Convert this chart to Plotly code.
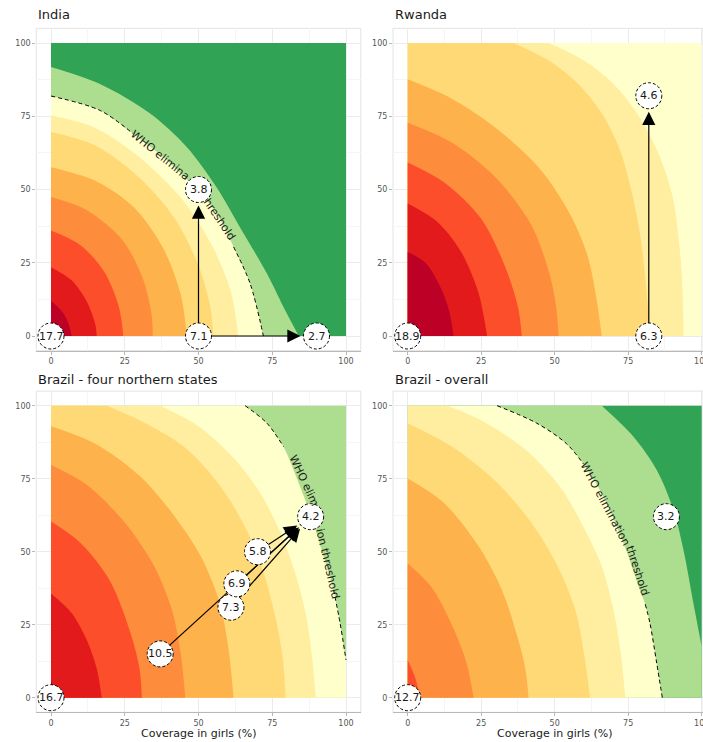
import math
import plotly.graph_objects as go

W, H = 703, 742

# colour bands (YlOrRd above the WHO threshold, greens below)
DG, LG = '#31a354', '#addd8e'
Y1, Y2, Y3 = '#ffffcc', '#ffeda0', '#fed976'
O1, O2 = '#feb24c', '#fd8d3c'
R1, R2, R3 = '#fc4e2a', '#e31a1c', '#bd0026'

TICKS = [0, 25, 50, 75, 100]
MINOR = [12.5, 37.5, 62.5, 87.5]
X_TITLE = 'Coverage in girls (%)'

# ---------------- India ----------------
IND_TITLE = 'India'
IND_BG = DG
IND_LG_X = [0, 16.6, 33.6, 46, 56, 64, 73.2, 78.8, 84]
IND_LG_Y = [91.8, 86, 75.9, 64.5, 50.9, 37.2, 21.3, 9.9, 0]
IND_Y1_X = [0, 16.6, 27.9, 39.3, 50.6, 56.2, 61.9, 67.5, 72]
IND_Y1_Y = [81.9, 77, 69, 60, 48.6, 41.8, 30.4, 17.9, 0]
IND_Y2_X = [0, 15, 30, 45, 55, 61, 63.5]
IND_Y2_Y = [75.3, 71, 61, 46, 30, 15, 0]
IND_Y3_X = [0, 15, 30, 42, 50, 54, 55]
IND_Y3_Y = [69.6, 65, 54, 40, 24, 10, 0]
IND_O1_X = [0, 15, 28, 38, 44, 46]
IND_O1_Y = [57.6, 53, 44, 30, 14, 0]
IND_O2_X = [0, 12, 24, 31, 34, 34.5]
IND_O2_Y = [47.4, 43, 33, 20, 8, 0]
IND_R1_X = [0, 10, 18, 23, 24.5]
IND_R1_Y = [36, 31, 22, 10, 0]
IND_R2_X = [0, 7, 12, 15, 15.5]
IND_R2_Y = [23.5, 19, 12, 4, 0]
IND_R3_X = [0, 4, 6, 7]
IND_R3_Y = [12, 8, 4, 0]
IND_PT_X = [0, 50, 50, 90]
IND_PT_Y = [0, 0, 50, 0]
IND_PT_LAB = ['17.7', '7.1', '3.8', '2.7']
IND_AR_FROM = [1, 1]
IND_AR_TO = [2, 3]
IND_TXT = ['WHO elimina', 'hreshold']
IND_TXT_X = [37, 57]
IND_TXT_Y = [61.5, 39.6]
IND_TXT_ANG = [39, 56]
IND_GAP = (28, 61.5)

# ---------------- Rwanda ----------------
RWA_TITLE = 'Rwanda'
RWA_BG = Y1
RWA_Y2_X = [48, 60, 70, 78, 85, 90, 92.5, 93.5, 93.8]
RWA_Y2_Y = [100, 94, 86, 76, 63, 48, 30, 15, 0]
RWA_Y3_X = [36, 48, 58, 66, 72, 76, 79, 81, 82.4]
RWA_Y3_Y = [100, 94, 86, 76, 64, 50, 35, 18, 0]
RWA_O1_X = [0, 15, 30, 45, 55, 61, 64, 66]
RWA_O1_Y = [87.6, 81, 71, 57, 42, 28, 14, 0]
RWA_O2_X = [0, 15, 30, 42, 48, 50.5, 51.3]
RWA_O2_Y = [72.8, 66, 54, 38, 22, 10, 0]
RWA_R1_X = [0, 13, 25, 33, 37.5, 38.8]
RWA_R1_Y = [59.2, 52, 40, 24, 10, 0]
RWA_R2_X = [0, 10, 18, 24, 27]
RWA_R2_Y = [45.2, 39, 29, 15, 0]
RWA_R3_X = [0, 6, 11, 14, 15.6]
RWA_R3_Y = [28.7, 25, 17, 9, 0]
RWA_PT_X = [0, 82, 82]
RWA_PT_Y = [0, 0, 82]
RWA_PT_LAB = ['18.9', '6.3', '4.6']
RWA_AR_FROM = [1]
RWA_AR_TO = [2]

# ---------------- Brazil - four northern states ----------------
BRN_TITLE = 'Brazil - four northern states'
BRN_BG = LG
BRN_Y1_X = [65.8, 73.2, 78.8, 82.2, 87.9, 92.4, 95.8, 98, 100]
BRN_Y1_Y = [100, 94, 86, 78, 63, 48.3, 36.9, 25.5, 12.9]
BRN_Y2_X = [37, 50, 62, 71, 78, 83, 86.5, 88.5, 89.7]
BRN_Y2_Y = [100, 93, 82, 70, 56, 42, 28, 14, 0]
BRN_Y3_X = [18.9, 30, 45, 57, 66, 72, 76, 78.5, 79.5]
BRN_Y3_Y = [100, 95, 86, 73, 58, 43, 28, 14, 0]
BRN_O1_X = [0, 15, 30, 42, 51, 57, 60, 61.9]
BRN_O1_Y = [93, 87, 76, 62, 48, 33, 18, 0]
BRN_O2_X = [0, 12, 25, 35, 41, 44, 45.5]
BRN_O2_Y = [79.7, 73, 60, 45, 30, 15, 0]
BRN_R1_X = [0, 10, 20, 27, 30, 30.8]
BRN_R1_Y = [60.3, 53, 40, 22, 10, 0]
BRN_R2_X = [0, 7, 12, 15.5, 17.2]
BRN_R2_Y = [35.7, 29, 20, 10, 0]
BRN_R3_X = [0, 1, 1.6]
BRN_R3_Y = [6, 3, 0]
BRN_PT_X = [0, 37, 61, 63, 70, 88]
BRN_PT_Y = [0, 15, 31, 39, 50, 62]
BRN_PT_LAB = ['16.7', '10.5', '7.3', '6.9', '5.8', '4.2']
BRN_AR_FROM = [1, 2, 3, 4]
BRN_AR_TO = [5, 5, 5, 5]
BRN_TXT = ['WHO elim', 'ion threshold']
BRN_TXT_X = [85.8, 93.8]
BRN_TXT_Y = [74.5, 46]
BRN_TXT_ANG = [65, 77]
BRN_GAP = (80, 95.5)

# ---------------- Brazil - overall ----------------
BRO_TITLE = 'Brazil - overall'
BRO_BG = DG
BRO_LG_X = [66, 76.8, 84.7, 90.4, 93.8, 97.2, 100]
BRO_LG_Y = [100, 89.4, 78, 64.3, 50.6, 32.3, 17.5]
BRO_Y1_X = [30.4, 43.9, 54, 59.8, 66.6, 73.4, 79, 80.8, 82.4, 84.7, 86.6]
BRO_Y1_Y = [100, 94, 87, 80, 68.8, 52.9, 36.9, 32, 25.5, 11.8, 0]
BRO_Y2_X = [13.4, 25, 40, 52, 60, 66, 70, 72.5, 74]
BRO_Y2_Y = [100, 95, 85, 72, 58, 45, 30, 15, 0]
BRO_Y3_X = [0, 15, 30, 42, 51, 57, 60, 62]
BRO_Y3_Y = [94, 86, 74, 60, 45, 30, 15, 0]
BRO_O1_X = [0, 12, 24, 32, 37, 40, 41.1]
BRO_O1_Y = [75.1, 67, 52, 37, 22, 10, 0]
BRO_O2_X = [0, 8, 15, 20, 22.4]
BRO_O2_Y = [46, 38, 25, 12, 0]
BRO_R1_X = [0, 2.5, 4.3]
BRO_R1_Y = [12.9, 7, 0]
BRO_PT_X = [0, 88]
BRO_PT_Y = [0, 62]
BRO_PT_LAB = ['12.7', '3.2']
BRO_TXT = ['WHO elimination', 'threshold']
BRO_TXT_X = [67.3, 78]
BRO_TXT_Y = [66.3, 43.4]
BRO_TXT_ANG = [62, 72]
BRO_GAP = (60, 80.5)

# ---------------- layout geometry ----------------
LEFT_DOM = [36.25 / W, 360.75 / W]
RIGHT_DOM = [393.0 / W, 1.0]
TOP_DOM = [(H - 350.65) / H, (H - 28.35) / H]
BOT_DOM = [(H - 712.3) / H, (H - 391.1) / H]
XR_L = [-5, 105]
XR_R = [-5, 100.44]
YR = [-5, 105]
R_PX = 13
STANDOFF = 16

panels = [
    dict(n='', xd=LEFT_DOM, yd=TOP_DOM, xr=XR_L, title=IND_TITLE, ty=14.5, bg=IND_BG,
         bands=[(IND_LG_X, IND_LG_Y, LG), (IND_Y1_X, IND_Y1_Y, Y1), (IND_Y2_X, IND_Y2_Y, Y2),
                (IND_Y3_X, IND_Y3_Y, Y3), (IND_O1_X, IND_O1_Y, O1), (IND_O2_X, IND_O2_Y, O2),
                (IND_R1_X, IND_R1_Y, R1), (IND_R2_X, IND_R2_Y, R2), (IND_R3_X, IND_R3_Y, R3)],
         thr=(IND_Y1_X, IND_Y1_Y, IND_GAP),
         txt=(IND_TXT, IND_TXT_X, IND_TXT_Y, IND_TXT_ANG),
         pts=(IND_PT_X, IND_PT_Y, IND_PT_LAB), arrows=(IND_AR_FROM, IND_AR_TO), xtitle=False),
    dict(n='2', xd=RIGHT_DOM, yd=TOP_DOM, xr=XR_R, title=RWA_TITLE, ty=14.5, bg=RWA_BG,
         bands=[(RWA_Y2_X, RWA_Y2_Y, Y2), (RWA_Y3_X, RWA_Y3_Y, Y3), (RWA_O1_X, RWA_O1_Y, O1),
                (RWA_O2_X, RWA_O2_Y, O2), (RWA_R1_X, RWA_R1_Y, R1), (RWA_R2_X, RWA_R2_Y, R2),
                (RWA_R3_X, RWA_R3_Y, R3)],
         thr=None, txt=None,
         pts=(RWA_PT_X, RWA_PT_Y, RWA_PT_LAB), arrows=(RWA_AR_FROM, RWA_AR_TO), xtitle=False),
    dict(n='3', xd=LEFT_DOM, yd=BOT_DOM, xr=XR_L, title=BRN_TITLE, ty=379, bg=BRN_BG,
         bands=[(BRN_Y1_X, BRN_Y1_Y, Y1), (BRN_Y2_X, BRN_Y2_Y, Y2), (BRN_Y3_X, BRN_Y3_Y, Y3),
                (BRN_O1_X, BRN_O1_Y, O1), (BRN_O2_X, BRN_O2_Y, O2), (BRN_R1_X, BRN_R1_Y, R1),
                (BRN_R2_X, BRN_R2_Y, R2), (BRN_R3_X, BRN_R3_Y, R3)],
         thr=(BRN_Y1_X, BRN_Y1_Y, BRN_GAP),
         txt=(BRN_TXT, BRN_TXT_X, BRN_TXT_Y, BRN_TXT_ANG),
         pts=(BRN_PT_X, BRN_PT_Y, BRN_PT_LAB), arrows=(BRN_AR_FROM, BRN_AR_TO), xtitle=True),
    dict(n='4', xd=RIGHT_DOM, yd=BOT_DOM, xr=XR_R, title=BRO_TITLE, ty=379, bg=BRO_BG,
         bands=[(BRO_LG_X, BRO_LG_Y, LG), (BRO_Y1_X, BRO_Y1_Y, Y1), (BRO_Y2_X, BRO_Y2_Y, Y2),
                (BRO_Y3_X, BRO_Y3_Y, Y3), (BRO_O1_X, BRO_O1_Y, O1), (BRO_O2_X, BRO_O2_Y, O2),
                (BRO_R1_X, BRO_R1_Y, R1)],
         thr=(BRO_Y1_X, BRO_Y1_Y, BRO_GAP),
         txt=(BRO_TXT, BRO_TXT_X, BRO_TXT_Y, BRO_TXT_ANG),
         pts=(BRO_PT_X, BRO_PT_Y, BRO_PT_LAB), arrows=([], []), xtitle=True),
]

fig = go.Figure()
shapes, annotations = [], []
FONT = 'DejaVu Sans, Verdana, sans-serif'


def flat(col, xa, ya, xs, ys, fill, shape='linear'):
    return go.Scatter(x=xs, y=ys, mode='lines', line=dict(width=0, shape=shape, smoothing=0.9),
                      fill=fill, fillcolor=col, xaxis=xa, yaxis=ya,
                      hoverinfo='skip', showlegend=False)


for p in panels:
    xa, ya = 'x' + p['n'], 'y' + p['n']
    sx = (p['xd'][1] - p['xd'][0]) * W / (p['xr'][1] - p['xr'][0])
    sy = (p['yd'][1] - p['yd'][0]) * H / (YR[1] - YR[0])

    # background (lowest band)
    fig.add_trace(flat(p['bg'], xa, ya, [0, 100, 100, 0, 0], [0, 0, 100, 100, 0], 'toself'))
    # nested bands, outermost first
    for bx, by, col in p['bands']:
        fig.add_trace(flat(col, xa, ya, list(bx), list(by), 'tozeroy', 'spline'))
        if by[0] >= 100 and bx[0] > 0:
            # part of the band that reaches the top edge left of the curve
            xe = bx[0] + 0.25
            fig.add_trace(flat(col, xa, ya, [0, xe, xe, 0, 0], [0, 0, 100, 100, 0], 'toself'))
    # dashed WHO threshold, interrupted where the label sits
    if p['thr']:
        tx, ty_, gap = p['thr']
        xs, ys = [], []
        for xi, yi in zip(tx, ty_):
            if gap[0] < xi < gap[1]:
                if xs and xs[-1] is not None:
                    xs.append(None)
                    ys.append(None)
                continue
            xs.append(xi)
            ys.append(yi)
        fig.add_trace(go.Scatter(x=xs, y=ys, mode='lines',
                                 line=dict(color='black', width=1, dash='4px,3px',
                                           shape='spline', smoothing=0.9),
                                 connectgaps=False, xaxis=xa, yaxis=ya,
                                 hoverinfo='skip', showlegend=False))
        words, wx, wy, wa = p['txt']
        for t, x0, y0, a in zip(words, wx, wy, wa):
            annotations.append(dict(text=t, x=x0, y=y0, xref=xa, yref=ya, showarrow=False,
                                    textangle=a, font=dict(size=11, color='#1a1a1a', family=FONT)))

    px_, py_, labs = p['pts']
    # arrows
    for i, j in zip(*p['arrows']):
        dxp = (px_[j] - px_[i]) * sx
        dyp = (py_[j] - py_[i]) * sy
        L = math.hypot(dxp, dyp)
        ux, uy = dxp / L, dyp / L
        ex = px_[j] - (STANDOFF + 5) * ux / sx
        ey = py_[j] - (STANDOFF + 5) * uy / sy
        fig.add_trace(go.Scatter(x=[px_[i], ex], y=[py_[i], ey], mode='lines',
                                 line=dict(color='black', width=1.2),
                                 xaxis=xa, yaxis=ya, hoverinfo='skip', showlegend=False))
        annotations.append(dict(text='', x=px_[j], y=py_[j], xref=xa, yref=ya, showarrow=True,
                                ax=-ux * 30, ay=uy * 30, standoff=STANDOFF, arrowhead=2,
                                arrowsize=2.2, arrowwidth=1.2, arrowcolor='black'))
    # circled labels
    for x0, y0, lab in zip(px_, py_, labs):
        shapes.append(dict(type='circle', xref=xa, yref=ya, xsizemode='pixel', ysizemode='pixel',
                           xanchor=x0, yanchor=y0, x0=-R_PX, x1=R_PX, y0=-R_PX, y1=R_PX,
                           fillcolor='white', line=dict(color='black', width=1, dash='3px,2px'),
                           layer='above'))
        annotations.append(dict(text=lab, x=x0, y=y0, xref=xa, yref=ya, showarrow=False,
                                font=dict(size=11, color='#1a1a1a', family=FONT)))
    # panel border
    shapes.append(dict(type='rect', xref=xa + ' domain', yref=ya + ' domain', x0=0, x1=1, y0=0, y1=1,
                       line=dict(color='#e3e3e3', width=1), layer='below'))
    # title
    annotations.append(dict(text=p['title'], x=p['xd'][0], y=(H - p['ty']) / H, xref='paper', yref='paper',
                            xanchor='left', yanchor='middle', showarrow=False,
                            font=dict(size=13, color='#1a1a1a', family=FONT)))
    if p['xtitle']:
        annotations.append(dict(text=X_TITLE, x=(p['xd'][0] * W + (50 - p['xr'][0]) * sx) / W,
                                y=(H - 733) / H, xref='paper', yref='paper',
                                xanchor='center', yanchor='middle', showarrow=False,
                                font=dict(size=11, color='#1a1a1a', family=FONT)))

    axis_common = dict(tickvals=TICKS, ticktext=[str(t) for t in TICKS], showgrid=True,
                       gridcolor='#ebebeb', gridwidth=1, zeroline=False, ticks='outside',
                       ticklen=3, tickcolor='#b8b8b8', tickfont=dict(size=8, color='#555555', family=FONT),
                       minor=dict(tickvals=MINOR, showgrid=True, gridcolor='#f5f5f5', gridwidth=0.6),
                       automargin=False, fixedrange=True)
    fig.update_layout(**{
        'xaxis' + p['n']: dict(domain=p['xd'], range=p['xr'], anchor=ya, showline=True,
                               linecolor='#b8b8b8', linewidth=1, ticklabeloverflow='allow',
                               **axis_common),
        'yaxis' + p['n']: dict(domain=p['yd'], range=YR, anchor=xa, showline=False, **axis_common),
    })

fig.update_layout(width=W, height=H, margin=dict(l=0, r=0, t=0, b=0),
                  plot_bgcolor='white', paper_bgcolor='white', showlegend=False,
                  shapes=shapes, annotations=annotations, font=dict(family=FONT))
fig.write_html('out.html', config={'displayModeBar': False},
               post_script="document.body.style.margin='0';document.body.style.overflow='hidden';")
